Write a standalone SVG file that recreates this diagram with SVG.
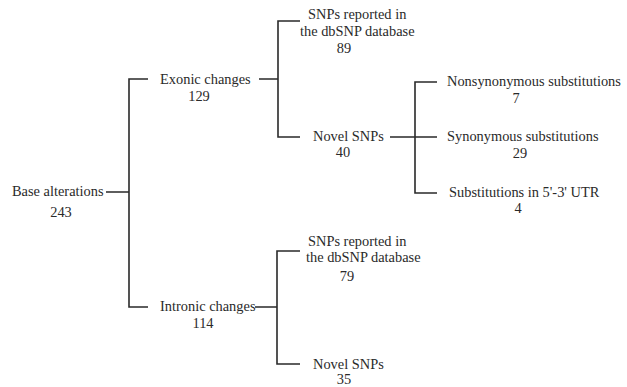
<svg xmlns="http://www.w3.org/2000/svg" width="627" height="387" viewBox="0 0 627 387">
<style>
text{font-family:"Liberation Serif","Times New Roman",serif;font-size:14.4px;fill:#2a2a2a}
.c{text-anchor:middle}
.ln{stroke:#2a2a2a;stroke-width:1.6;fill:none}
</style>
<rect width="627" height="387" fill="#ffffff"/>
<g id="connectors" class="ln">
<path d="M106 192H129M148 79H129V307H148"/>
<path d="M259 79H278M300 21H278V137H300"/>
<path d="M390 137H437M437 82H415V193H437"/>
<path d="M255 307H277M300 251H277V364H300"/>
</g>
<g id="base"><text x="12" y="196">Base alterations</text><text class="c" x="61" y="217">243</text></g>
<g id="exonic"><text x="160" y="84">Exonic changes</text><text class="c" x="199" y="101">129</text></g>
<g id="intronic"><text x="160" y="311">Intronic changes</text><text class="c" x="203" y="328">114</text></g>
<g id="ex-reported"><text x="308" y="19">SNPs reported in</text><text x="300" y="36">the dbSNP database</text><text class="c" x="344" y="53">89</text></g>
<g id="ex-novel"><text x="313" y="141">Novel SNPs</text><text class="c" x="343" y="157">40</text></g>
<g id="nonsyn"><text x="447" y="86">Nonsynonymous substitutions</text><text class="c" x="516" y="103">7</text></g>
<g id="syn"><text x="447" y="141">Synonymous substitutions</text><text class="c" x="520" y="158">29</text></g>
<g id="utr"><text x="449" y="197">Substitutions in 5'-3' UTR</text><text class="c" x="518" y="213">4</text></g>
<g id="in-reported"><text x="308" y="246">SNPs reported in</text><text x="306" y="262">the dbSNP database</text><text class="c" x="347" y="281">79</text></g>
<g id="in-novel"><text x="313" y="369">Novel SNPs</text><text class="c" x="344" y="384">35</text></g>
</svg>
